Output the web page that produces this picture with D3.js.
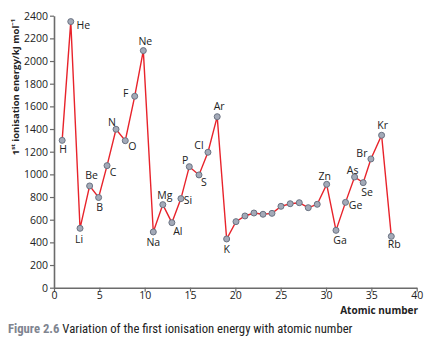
<!DOCTYPE html>
<html><head><meta charset="utf-8">
<script src="https://cdn.jsdelivr.net/npm/d3@7"></script>
<style>
html,body{margin:0;padding:0;background:#fff;}
svg{display:block;}
</style></head>
<body>
<svg id="chart" width="425" height="340"></svg>
<script>
// ---- data ----
const elements = ["H","He","Li","Be","B","C","N","O","F","Ne","Na","Mg","Al","Si","P","S","Cl","Ar","K","Ca","Sc","Ti","V","Cr","Mn","Fe","Co","Ni","Cu","Zn","Ga","Ge","As","Se","Br","Kr","Rb"];
// plotted x positions (atomic number as drawn in the figure)
const atomicX = [0.9,1.85,2.87,3.93,4.92,5.85,6.84,7.86,8.9,9.85,10.95,12.0,13.0,14.0,14.92,15.99,16.98,18.0,19.04,20.07,21.06,22.05,23.05,24.04,25.03,26.05,27.05,28.04,29.03,30.07,31.1,32.15,33.15,34.1,34.95,36.13,37.2];
const energies = [1300,2348,524,898,796,1077,1398,1297,1689,2092,492,733,574,786,1068,995,1195,1509,430,583,633,659,648,656,718,741,750,706,736,912,506,753,977,927,1136,1345,453];
const xTicks = [0,5,10,15,20,25,30,35,40];
const yTicks = [0,200,400,600,800,1000,1200,1400,1600,1800,2000,2200,2400];
const labelled = ["H","He","Li","Be","B","C","N","O","F","Ne","Na","Mg","Al","Si","P","S","Cl","Ar","K","Zn","Ga","Ge","As","Se","Br","Kr","Rb"];

// label offsets (layout only)
const labelOffset = {
  H:[1,9],He:[12.5,3.5],Li:[-1,11],Be:[2,-11],B:[1,10],C:[6,6],N:[-4,-7],O:[7,5],F:[-9,-3],Ne:[2,-10],
  Na:[0,10],Mg:[2,-10],Al:[6,8],Si:[7,1],P:[-4,-7],S:[5,7],Cl:[-9,-7],Ar:[2,-11],K:[0,10],
  Zn:[-2,-8],Ga:[4,10],Ge:[10,3],As:[-2,-7],Se:[4,9],Br:[-9,-6],Kr:[1,-10],Rb:[3,8]
};

const svg = d3.select("#chart");
const x = d3.scaleLinear().domain([0,40]).range([54,416.7]);
const y = d3.scaleLinear().domain([0,2400]).range([287.7,15.7]);
const axisColor = "#6b6b6b";
const font = "'Open Sans', 'Liberation Sans', Arial, sans-serif";

// axes
const xAxis = svg.append("g").attr("transform",`translate(0,${y(0)})`)
  .call(d3.axisBottom(x).tickValues(xTicks).tickFormat(d3.format("d")).tickSize(4).tickSizeOuter(0).tickPadding(0));
const yAxis = svg.append("g").attr("transform",`translate(${x(0)},0)`)
  .call(d3.axisLeft(y).tickValues(yTicks).tickFormat(d3.format("d")).tickSize(4).tickSizeOuter(0).tickPadding(2));
[xAxis,yAxis].forEach(g=>{
  g.select(".domain").attr("stroke",axisColor).attr("stroke-width",1.6);
  g.selectAll(".tick line").attr("stroke",axisColor).attr("stroke-width",1.2);
  g.selectAll(".tick text").attr("fill","#222").attr("font-family",font).attr("font-size",10.5);
});
xAxis.selectAll(".tick text").attr("dy","0.7em");

// line
const pts = elements.map((e,i)=>({e, xv:atomicX[i], yv:energies[i]}));
svg.append("path").datum(pts)
  .attr("fill","none").attr("stroke","#e8232b").attr("stroke-width",1.4)
  .attr("d", d3.line().x(d=>x(d.xv)).y(d=>y(d.yv)));

// markers
svg.selectAll("circle.pt").data(pts).enter().append("circle")
  .attr("class","pt").attr("cx",d=>x(d.xv)).attr("cy",d=>y(d.yv)).attr("r",3)
  .attr("fill","#a3aab8").attr("stroke","#6a7282").attr("stroke-width",1);

// element labels
svg.selectAll("text.lbl").data(pts.filter(d=>labelled.includes(d.e))).enter().append("text")
  .attr("class","lbl")
  .attr("x",d=>x(d.xv)+labelOffset[d.e][0])
  .attr("y",d=>y(d.yv)+labelOffset[d.e][1])
  .attr("text-anchor","middle").attr("dominant-baseline","central")
  .attr("font-family",font).attr("font-size",10.5).attr("fill","#222")
  .text(d=>d.e);

// y axis title
const yt = svg.append("text")
  .attr("transform","translate(19,87) rotate(-90)")
  .attr("text-anchor","middle")
  .attr("font-family",font).attr("font-size",9.5).attr("font-weight","bold").attr("fill","#222");
yt.append("tspan").text("1");
yt.append("tspan").attr("font-size",6).attr("dy",-4).text("st");
yt.append("tspan").attr("dy",4).text(" ionisation energy/kJ mol");
yt.append("tspan").attr("font-size",6).attr("dy",-4).text("−1");

// x axis title
svg.append("text").attr("x",418).attr("y",314).attr("text-anchor","end")
  .attr("font-family",font).attr("font-size",10).attr("font-weight","bold").attr("fill","#222")
  .text("Atomic number");

// caption
const cap = svg.append("text").attr("x",8).attr("y",333)
  .attr("font-family","'Liberation Sans Narrow', 'Roboto Condensed', 'Liberation Sans', sans-serif")
  .attr("font-stretch","condensed").attr("font-size",12.7).attr("fill","#222");
cap.append("tspan").attr("font-weight","bold").attr("fill","#7f8590").text("Figure 2.6");
cap.append("tspan").text(" Variation of the first ionisation energy with atomic number");
</script>
</body></html>
